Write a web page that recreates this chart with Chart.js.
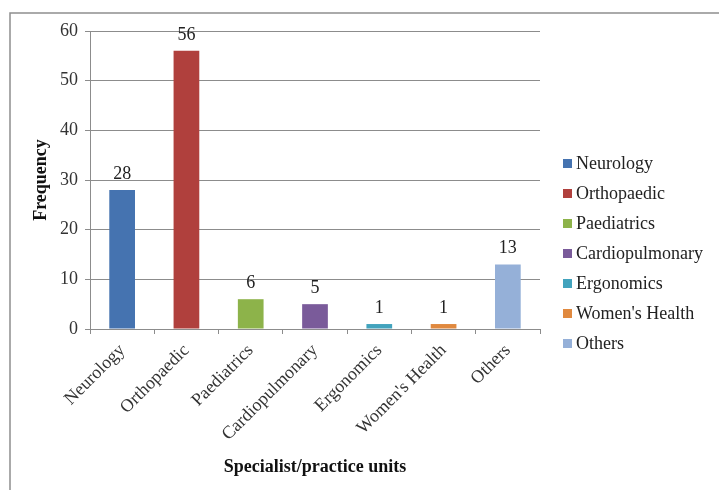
<!DOCTYPE html>
<html>
<head>
<meta charset="utf-8">
<script src="https://cdn.jsdelivr.net/npm/chart.js@4"></script>
<style>
  html, body { margin: 0; padding: 0; background: #fff; overflow: hidden; }
  #wrap { position: relative; width: 719px; height: 490px; }
</style>
</head>
<body>
<div id="wrap"><canvas id="chart" width="719" height="490"></canvas></div>
<script>
// Specialist/practice units - frequency
const categories = ['Neurology', 'Orthopaedic', 'Paediatrics', 'Cardiopulmonary', 'Ergonomics', "Women's Health", 'Others'];
const frequency = [28, 56, 6, 5, 1, 1, 13];
const barColors = ['#4573b0', '#b0403d', '#8db34a', '#7a5b9a', '#42a3bd', '#e0893f', '#95b0d8'];
const yTicks = [0, 10, 20, 30, 40, 50, 60];

const serif = "'Liberation Serif', 'Times New Roman', serif";
const gridColor = '#8c8c8c';

// outer frame (only top and left edges are visible in the picture)
const framePlugin = {
    id: 'frame',
    beforeDraw(chart) {
        const ctx = chart.ctx;
        ctx.save();
        ctx.strokeStyle = '#8f8f8f';
        ctx.lineWidth = 1.5;
        ctx.beginPath();
        ctx.moveTo(10, chart.height);
        ctx.lineTo(10, 13);
        ctx.lineTo(chart.width, 13);
        ctx.stroke();
        ctx.restore();
    }
};

// value labels above each bar
const valueLabels = {
    id: 'valueLabels',
    afterDatasetsDraw(chart) {
        const ctx = chart.ctx;
        const meta = chart.getDatasetMeta(0);
        ctx.save();
        ctx.font = '18px ' + serif;
        ctx.fillStyle = '#222';
        ctx.textAlign = 'center';
        ctx.textBaseline = 'alphabetic';
        meta.data.forEach((bar, i) => {
            ctx.fillText(String(chart.data.datasets[0].data[i]), bar.x, bar.y - 11);
        });
        ctx.restore();
    }
};

// legend: one entry per category, like Excel's "vary colours by point"
const sideLegend = {
    id: 'sideLegend',
    afterDraw(chart) {
        const ctx = chart.ctx;
        const ds = chart.data.datasets[0];
        ctx.save();
        ctx.font = '18px ' + serif;
        ctx.textBaseline = 'middle';
        ctx.textAlign = 'left';
        chart.data.labels.forEach((lab, i) => {
            const y = 163 + i * 30;
            ctx.fillStyle = ds.backgroundColor[i];
            ctx.fillRect(563, y - 4, 9, 9);
            ctx.fillStyle = '#222';
            ctx.fillText(lab, 576, y + 1);
        });
        ctx.restore();
    }
};

new Chart(document.getElementById('chart'), {
    type: 'bar',
    data: {
        labels: categories,
        datasets: [{
            label: 'Frequency',
            data: frequency,
            backgroundColor: barColors,
            borderWidth: 0,
            categoryPercentage: 1,
            barPercentage: 0.4
        }]
    },
    options: {
        responsive: false,
        animation: false,
        events: [],
        layout: { padding: { left: 10, top: 31, right: 179, bottom: 0 } },
        plugins: {
            legend: { display: false },
            tooltip: { enabled: false }
        },
        scales: {
            x: {
                offset: true,
                grid: {
                    offset: true,
                    drawOnChartArea: false,
                    drawTicks: true,
                    tickLength: 5,
                    color: gridColor
                },
                border: { color: gridColor, width: 1 },
                ticks: {
                    font: { family: serif, size: 18 },
                    color: '#333',
                    minRotation: 45,
                    maxRotation: 45,
                    autoSkip: false,
                    padding: 6
                },
                title: {
                    display: true,
                    text: 'Specialist/practice units',
                    font: { family: serif, size: 18, weight: 'bold' },
                    color: '#111',
                    padding: { top: 12, bottom: 12 }
                },
                afterFit(scale) { scale.height = 161; }
            },
            y: {
                min: 0,
                max: 60,
                afterBuildTicks(scale) { scale.ticks = yTicks.map(v => ({ value: v })); },
                grid: { color: gridColor, tickLength: 5 },
                border: { color: gridColor, width: 1 },
                ticks: {
                    font: { family: serif, size: 18 },
                    color: '#333',
                    padding: 7
                },
                title: {
                    display: true,
                    text: 'Frequency',
                    font: { family: serif, size: 18, weight: 'bold' },
                    color: '#111',
                    padding: { top: 21, bottom: 21 }
                },
                afterFit(scale) { scale.width = 80; }
            }
        }
    },
    plugins: [framePlugin, valueLabels, sideLegend]
});
</script>
</body>
</html>
